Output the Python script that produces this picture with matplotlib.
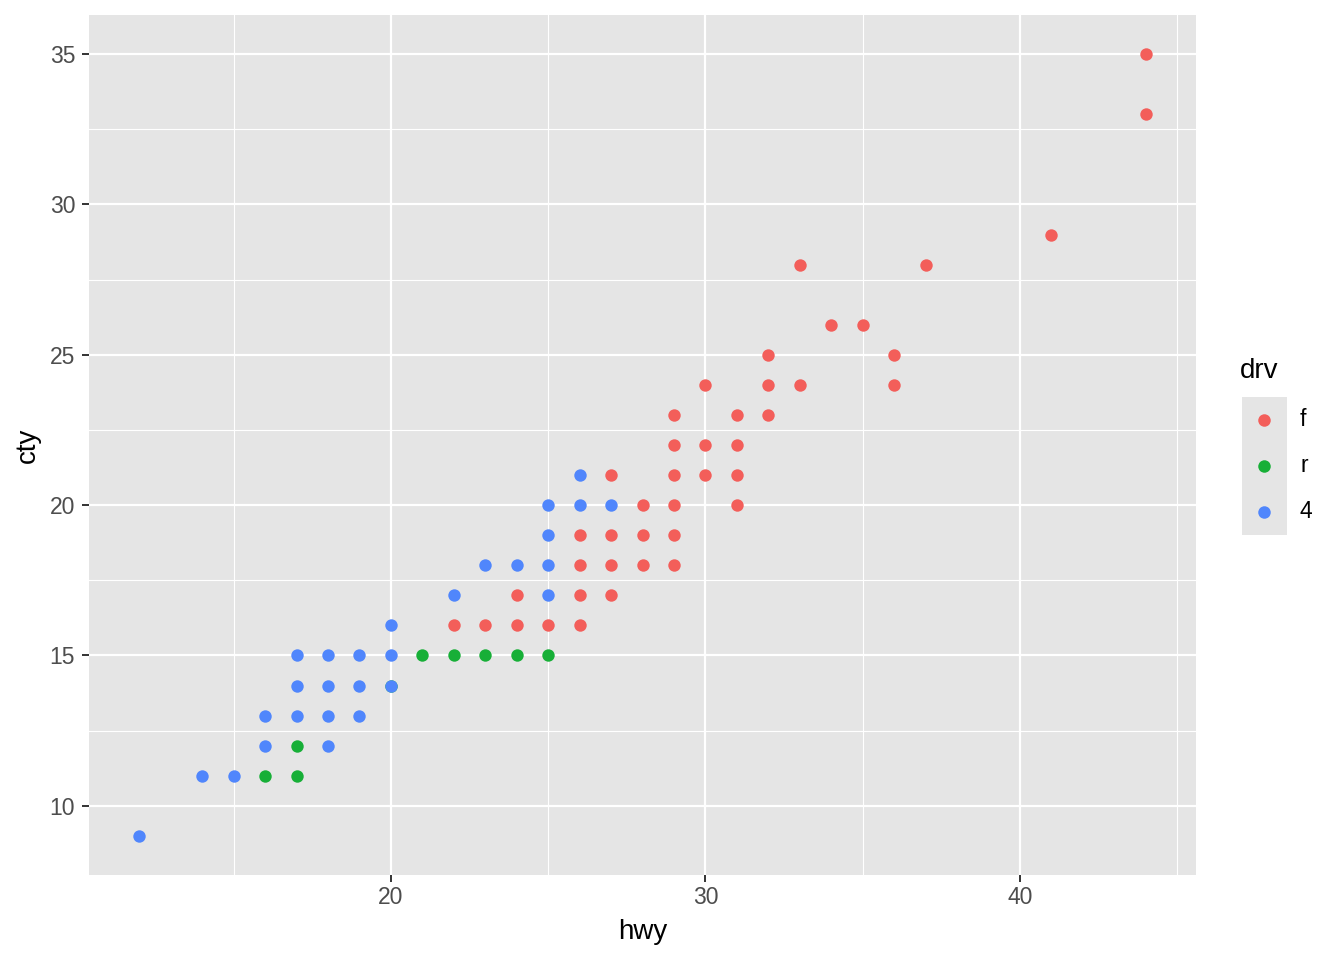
import matplotlib
matplotlib.use("Agg")
import matplotlib.pyplot as plt
from matplotlib.patches import Rectangle
from matplotlib.lines import Line2D

plt.rcParams["font.family"] = ["Liberation Sans", "DejaVu Sans"]

# distinct (hwy, cty) combinations visible in the reference, by drive type
F_HWY = [44, 44, 41, 37, 33, 34, 35, 32, 36, 36, 30, 32, 33, 29, 31, 32, 29, 30, 31,
         27, 29, 30, 31, 28, 29, 31, 26, 27, 28, 29, 26, 27, 28, 29, 24, 26, 27,
         22, 23, 24, 25, 26]
F_CTY = [35, 33, 29, 28, 28, 26, 26, 25, 25, 24, 24, 24, 24, 23, 23, 23, 22, 22, 22,
         21, 21, 21, 21, 20, 20, 20, 19, 19, 19, 19, 18, 18, 18, 18, 17, 17, 17,
         16, 16, 16, 16, 16]
R_HWY = [16, 17, 17, 20, 21, 22, 23, 24, 25]
R_CTY = [11, 11, 12, 14, 15, 15, 15, 15, 15]
FOUR_HWY = [12, 14, 15, 16, 18, 16, 17, 18, 19, 17, 18, 19, 20, 17, 18, 19, 20, 20,
            22, 25, 23, 24, 25, 25, 25, 26, 27, 26]
FOUR_CTY = [9, 11, 11, 12, 12, 13, 13, 13, 13, 14, 14, 14, 14, 15, 15, 15, 15, 16,
            17, 17, 18, 18, 18, 19, 20, 20, 20, 21]

LEVELS = ["f", "r", "4"]
COLORS = {"f": "#F35E5A", "r": "#17AF37", "4": "#5086FC"}
PANEL_BG = "#E5E5E5"

W, H = 1344, 960
fig = plt.figure(figsize=(W / 100, H / 100), dpi=100)
L, R, T, B = 89, 1196, 15, 875
ax = fig.add_axes([L / W, 1 - B / H, (R - L) / W, (B - T) / H])
ax.set_facecolor(PANEL_BG)

# ggplot-style grid
for v in [15, 25, 35, 45]:
    ax.axvline(v, color="white", lw=0.8, zorder=0)
for v in [12.5, 17.5, 22.5, 27.5, 32.5]:
    ax.axhline(v, color="white", lw=0.8, zorder=0)
for v in [20, 30, 40]:
    ax.axvline(v, color="white", lw=1.6, zorder=0)
for v in [10, 15, 20, 25, 30, 35]:
    ax.axhline(v, color="white", lw=1.6, zorder=0)

ax.scatter(R_HWY, R_CTY, s=80, color=COLORS["r"], linewidths=0, zorder=2)
ax.scatter(FOUR_HWY, FOUR_CTY, s=80, color=COLORS["4"], linewidths=0, zorder=2)
ax.scatter(F_HWY, F_CTY, s=80, color=COLORS["f"], linewidths=0, zorder=2)

ax.set_xlim(10.4, 45.6)
ax.set_ylim(7.7, 36.3)
ax.set_xticks([20, 30, 40])
ax.set_yticks([10, 15, 20, 25, 30, 35])
ax.tick_params(length=5, width=1.4, color="#333333", labelcolor="#4D4D4D",
               labelsize=16.5)
ax.tick_params(axis="y", pad=5)
ax.tick_params(axis="x", pad=3)
for s in ax.spines.values():
    s.set_visible(False)
ax.set_xlabel("hwy", fontsize=20, labelpad=7)
ax.set_ylabel("cty", fontsize=20, labelpad=6)

# legend drawn by hand
fig.text(1240 / W, 1 - 371 / H, "drv", fontsize=20, ha="left", va="center")
fig.add_artist(Rectangle((1242 / W, 1 - 535 / H), 45 / W, 138 / H,
                         transform=fig.transFigure, facecolor=PANEL_BG,
                         edgecolor="none"))
for i, lev in enumerate(LEVELS):
    yc = 1 - (420 + 46 * i) / H
    fig.add_artist(Line2D([1264 / W], [yc], marker="o", markersize=9,
                          color=COLORS[lev], markeredgewidth=0,
                          transform=fig.transFigure))
    fig.text(1300 / W, yc, lev, fontsize=16.5, ha="left", va="center")

fig.savefig("out.png", dpi=100)
